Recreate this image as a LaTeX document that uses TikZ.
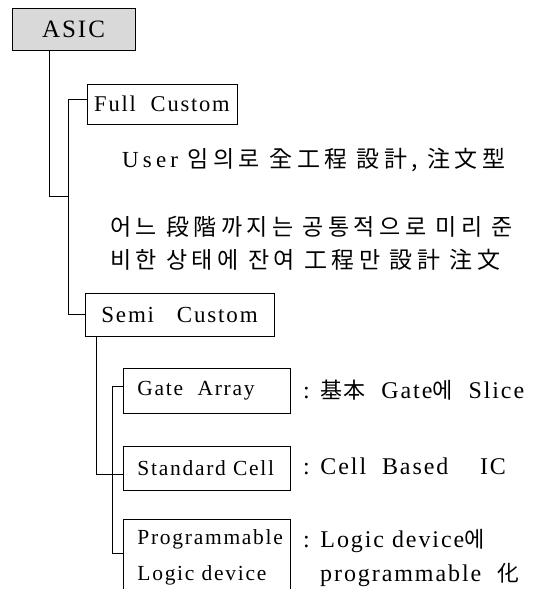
\documentclass[tikz,border=0pt]{standalone}
\usepackage{fontspec}
\setmainfont[LetterSpace=8]{Liberation Serif}
\newfontfamily\userfont[LetterSpace=18]{Liberation Serif}
\newfontfamily\krfont[LetterSpace=19]{Noto Sans CJK KR}
\newfontfamily\krsmall[LetterSpace=5]{Noto Sans CJK KR}
\newcommand\krl[1]{{\fontsize{23}{27}\krfont #1}}
\newcommand\kr[1]{{\fontsize{22}{26}\krsmall #1}}
\begin{document}
\begin{tikzpicture}[x=1pt,y=-1pt,
    box/.style={draw,line width=0.9pt,inner sep=0pt},
    subbox/.style={box,anchor=north west,minimum width=167pt,text width=139pt,
      inner xsep=14pt,align=left,font=\fontsize{21.5}{25}\selectfont},
    desc/.style={anchor=west,inner sep=0pt,font=\fontsize{24}{28}\selectfont}]
  \useasboundingbox (0,0) rectangle (535,589);
  \clip (0,0) rectangle (535,589);
  \draw
    (73.5,29) node[box,fill=black!15,minimum width=123pt,minimum height=42pt,
      font=\fontsize{25}{30}\selectfont] (asic){ASIC}
    (162,104) node[box,minimum width=150pt,minimum height=40pt,
      font=\fontsize{22.5}{28}\selectfont] (full){Full\ \ Custom}
    (179.5,314.5) node[box,minimum width=189pt,minimum height=43pt,
      font=\fontsize{23}{28}\selectfont] (semi){Semi\ \ \ Custom}
    (123,368) node[subbox,minimum height=45pt] (gate){Gate\ \ Array}
    (123,446) node[subbox,minimum height=44pt] (std){Standard Cell}
    (123,519) node[subbox,minimum height=76pt] (prog){Programmable\\[11pt]Logic device};
  \draw
    (122,160) node[desc,font=\fontsize{23}{27}\userfont] (user){User\ \krl{임의로 全工程 設計, 注文型}}
    (110,227) node[desc] (semitxt1){\krl{어느 段階까지는 공통적으로 미리 준}}
    (110,260) node[desc] (semitxt2){\krl{비한 상태에 잔여 工程만 設計 注文}}
    (303,390) node[desc] (gatedesc){: \kr{基本}\ \ Gate\kr{에}\ \ Slice}
    (303,466) node[desc] (stddesc){: Cell\ \ Based\ \ \ \ IC}
    (303,541) node[desc] (progdesc){: Logic device\kr{에}}
    (320,575) node[desc] (progdesc2){programmable\ \ \kr{化}};
  \coordinate (ajoin) at (69,196);
  \begin{scope}[line width=0.9pt]
    \draw ([yshift=5pt]full.west) -- ++(-18,0) |- (semi.west);
    \draw ([xshift=38pt]asic.south west) |- (ajoin);
    \draw ([xshift=12pt]semi.south west) |- ([yshift=-6pt]std.west);
    \draw ([yshift=4.5pt]gate.west) -- ++(-11,0) |- ([yshift=-34pt]prog.north west);
  \end{scope}
\end{tikzpicture}
\end{document}
